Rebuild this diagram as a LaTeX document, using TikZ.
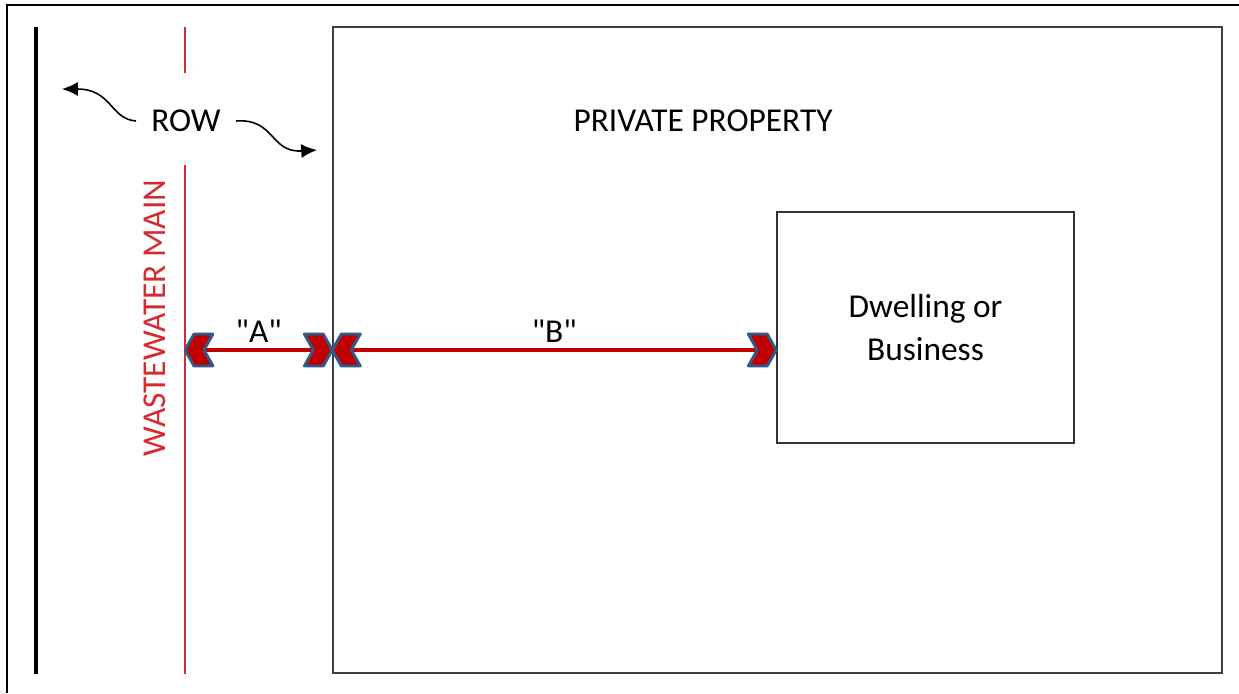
\documentclass[tikz,border=0pt]{standalone}
\usepackage{fontspec}
\setmainfont{Carlito}
\usetikzlibrary{arrows.meta}
\definecolor{linered}{HTML}{C00000}
\definecolor{chevblue}{HTML}{2E5C8A}
\definecolor{pipered}{HTML}{D52B30}
\tikzset{
    lbl/.style={font=\fontsize{19}{25}\selectfont, text=black},
    pipe/.style={pipered, line width=1.1pt},
    dimline/.style={linered, line width=2.3pt, shorten <=3pt, shorten >=3pt},
    rowarrow/.style={line width=0.9pt, -{Latex[length=9pt,width=8pt]}},
    pics/chevron/.style={code={
        \filldraw[fill=linered, draw=chevblue, line width=1.6pt, line join=round]
            (0,0) -- (-9,-16) -- (-28,-16) -- (-19,0) -- (-28,16) -- (-9,16) -- cycle;
    }}
}
\begin{document}
\begin{tikzpicture}[x=0.02cm,y=-0.02cm]
    \useasboundingbox (0,0) rectangle (1239,693);
    \draw[line width=1.2pt] (7,693) -- (7,5) -- (1239,5);
    % right of way and the main
    \draw[line width=2.3pt] (36,27) -- (36,674);
    \node[lbl, inner xsep=0.3cm] (row) at (186,121) {ROW};
    \draw[pipe] (185,27) -- (185,73) (185,165) -- (185,674);
    \node[lbl, text=pipered, rotate=90] (mainlbl) at (155,318) {WASTEWATER MAIN};
    \draw[rowarrow] (row.west) .. controls (110,119) and (112,89) .. (62,89);
    \draw[rowarrow] (row.east) .. controls (275,118) and (270,153) .. (317,150);
    % lot and building
    \node[draw=black!75, line width=0.9pt, minimum width=17.78cm, minimum height=12.92cm] (lot) at (777.5,350) {};
    \node[lbl] (pp) at (703,121) {PRIVATE PROPERTY};
    \node[lbl, draw=black!80, line width=0.9pt, minimum width=5.94cm, minimum height=4.62cm, align=center]
        (house) at (925.5,327.5) {Dwelling or\\Business};
    \coordinate (mainpt) at (185,350);
    \coordinate (housept) at (lot.west -| house.west);
    % distances
    \draw[dimline] (mainpt) -- (lot.west) node[lbl, midway, above=0pt] {\textquotedbl A\textquotedbl};
    \draw[dimline] (lot.west) -- (housept) node[lbl, midway, above=0pt] {\textquotedbl B\textquotedbl};
    \pic[rotate=180] at (mainpt) {chevron};
    \pic at (lot.west) {chevron};
    \pic[rotate=180] at (lot.west) {chevron};
    \pic at (housept) {chevron};
\end{tikzpicture}
\end{document}
